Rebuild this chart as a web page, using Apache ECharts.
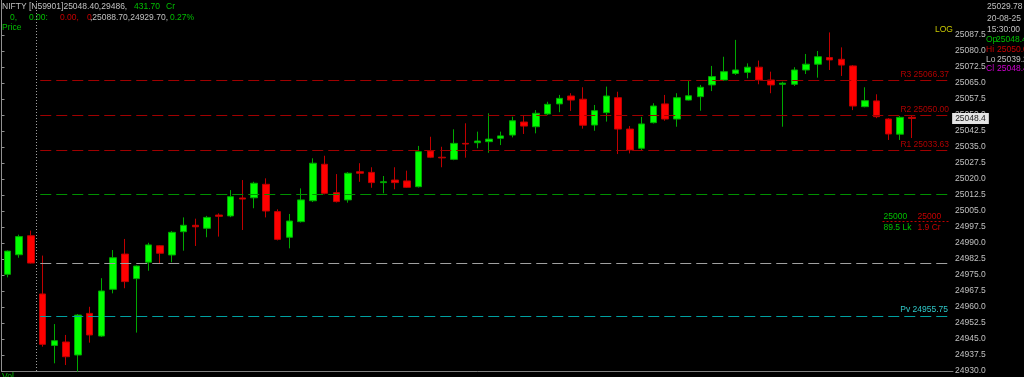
<!DOCTYPE html>
<html>
<head>
<meta charset="utf-8">
<script src="https://cdn.jsdelivr.net/npm/echarts/dist/echarts.min.js"></script>
<style>
html,body{margin:0;padding:0;background:#000;}
#chart{width:1024px;height:377px;}
</style>
</head>
<body>
<div id="chart"></div>
<script>
// ---- data ----
const categories = [
  '15:10','15:15','15:20',
  '09:15','09:20','09:25','09:30','09:35','09:40','09:45','09:50','09:55',
  '10:00','10:05','10:10','10:15','10:20','10:25','10:30','10:35','10:40','10:45','10:50','10:55',
  '11:00','11:05','11:10','11:15','11:20','11:25','11:30','11:35','11:40','11:45','11:50','11:55',
  '12:00','12:05','12:10','12:15','12:20','12:25','12:30','12:35','12:40','12:45','12:50','12:55',
  '13:00','13:05','13:10','13:15','13:20','13:25','13:30','13:35','13:40','13:45','13:50','13:55',
  '14:00','14:05','14:10','14:15','14:20','14:25','14:30','14:35','14:40','14:45','14:50','14:55',
  '15:00','15:05','15:10 ','15:15 ','15:20 ','15:25',
  '15:30','15:35','15:40'
];
const opens = [24975.3,24984.5,24993.4,24966.1,24942.0,24943.6,24937.5,24957.0,24946.4,24968.3,
  24984.8,24973.3,24981.0,24988.7,24984.4,24995.3,24998.3,24996.9,25003.1,25002.7,
  25011.1,25011.2,25017.5,25004.7,24992.7,25000.0,25009.8,25026.9,25013.6,25010.2,
  25023.4,25023.1,25018.3,25019.5,25019.1,25016.4,25033.1,25030.2,25029.2,25036.7,
  25037.0,25037.5,25039.1,25040.6,25046.7,25044.5,25050.5,25055.2,25058.9,25057.4,
  25045.3,25051.1,25058.1,25043.4,25034.4,25046.4,25055.2,25048.1,25057.0,25058.6,
  25064.1,25066.4,25069.5,25070.0,25072.4,25066.4,25064.4,25064.4,25071.1,25073.8,
  25076.9,25076.1,25073.0,25053.9,25056.6,25048.1,25041.0,25048.9];
const highs = [24986.5,24993.9,24995.8,24984.1,24952.0,24946.9,24956.7,24960.1,24973.5,24986.7,
  24991.9,24979.5,24990.1,24989.0,24995.6,25002.0,25001.4,25002.7,25003.9,25014.8,
  25019.5,25018.7,25020.3,25005.8,25003.6,25015.6,25029.7,25030.9,25022.3,25023.2,
  25027.4,25025.5,25021.4,25025.5,25023.9,25035.5,25039.8,25035.1,25043.3,25046.1,
  25042.2,25050.8,25042.2,25049.2,25049.5,25052.3,25056.2,25059.4,25060.2,25063.0,
  25054.7,25063.3,25060.9,25044.8,25049.1,25055.5,25059.4,25060.2,25065.9,25064.1,
  25073.0,25077.3,25085.2,25074.2,25075.5,25070.3,25065.6,25072.4,25078.6,25080.0,
  25088.7,25081.7,25073.4,25063.0,25059.7,25048.5,25049.5,25050.0];
const lows = [24973.9,24983.1,24980.4,24941.4,24933.6,24932.8,24929.7,24943.3,24946.0,24966.4,
  24968.8,24948.0,24977.0,24980.5,24981.0,24986.4,24988.6,24992.7,24993.0,25002.1,
  24996.1,25006.3,25002.0,24991.2,24987.5,24999.6,25009.2,25012.8,25009.0,25008.9,
  25018.7,25015.9,25013.3,25015.2,25015.8,25016.0,25029.8,25025.5,25028.8,25030.0,
  25034.4,25032.3,25035.9,25039.5,25041.1,25041.4,25050.0,25051.3,25051.9,25043.6,
  25042.6,25046.9,25031.7,25032.0,25033.6,25046.0,25047.3,25044.5,25056.8,25052.0,
  25061.2,25066.0,25068.8,25067.2,25064.4,25060.2,25044.5,25063.6,25069.2,25067.5,
  25071.1,25068.3,25052.3,25053.6,25048.5,25038.3,25038.3,25039.2];
const closes = [24986.2,24993.0,24980.6,24942.5,24944.2,24936.7,24956.2,24946.9,24967.5,24983.1,
  24971.9,24979.2,24989.1,24985.2,24995.0,24998.3,24997.6,25002.0,25002.5,25011.7,
  25010.6,25018.0,25005.0,24991.7,25000.3,25010.2,25027.4,25013.3,25009.4,25022.7,
  25022.7,25018.3,25018.7,25018.3,25016.1,25032.8,25030.2,25029.9,25036.7,25036.4,
  25037.8,25038.7,25040.2,25047.3,25044.8,25050.8,25055.0,25057.8,25057.0,25045.2,
  25052.0,25058.9,25043.4,25033.6,25045.8,25054.2,25048.1,25058.1,25059.0,25063.0,
  25068.0,25070.3,25071.1,25072.4,25066.4,25064.1,25064.9,25071.1,25073.8,25077.3,
  25075.8,25073.4,25054.2,25056.7,25049.2,25041.1,25048.9,25048.4];
const yTicks = [24930.0,24937.5,24945.0,24952.5,24960.0,24967.5,24975.0,24982.5,24990.0,24997.5,
  25005.0,25012.5,25020.0,25027.5,25035.0,25042.5,25050.0,25057.5,25065.0,25072.5,25080.0,25087.5];
const pivotLevels = { R3: 25066.37, R2: 25050.00, R1: 25033.63, Pv: 24955.75 };
const greenLevel = 25012.8;
const greyLevel = 24980.6;
const markerLevel = 25000;
const lastPrice = 25048.4;
const yMin = 24930, yMax = 25103.9;

// ---- chart ----
const FONT = 'Liberation Sans';
const FS = 8.5;
const GREY = '#c0c0c0', GREEN = '#00c000', RED = '#c80000', DRED = '#b00000';
const CLEAR = 'rgba(0,0,0,0)';
const chart = echarts.init(document.getElementById('chart'), null, {renderer: 'canvas'});
const candleData = opens.map((o, i) => [o, closes[i], lows[i], highs[i]]);
const nCat = categories.length;
const dayStart = 3;           // first candle of the session (band boundary in slot units)
const markerStart = 75;       // slot boundary where the 25000 marker starts
const lineEnd = nCat - 0.25;  // right end of level lines

function T(x, y, text, color) {
  return {
    type: 'text', x: x, y: y, silent: true,
    style: { text: text, fill: color, fontSize: FS, fontFamily: FONT, verticalAlign: 'middle', align: 'left' }
  };
}

function levelLine(value, color, label, dist) {
  return [{
    coord: [dayStart + 0.3, value],
    lineStyle: { color: color, type: [11, 5], width: 1 },
    label: label ? { show: true, position: 'insideEndTop', formatter: label.text, color: label.color,
      fontSize: FS, fontFamily: FONT, distance: dist } : { show: false }
  }, { coord: [lineEnd, value] }];
}

const option = {
  backgroundColor: '#000000',
  animation: false,
  grid: { left: 1.5, top: 0, width: 951.5, height: 371, show: false, outerBoundsMode: 'none', containLabel: false },
  xAxis: [{
    type: 'category', data: categories, boundaryGap: true,
    axisLine: { show: true, lineStyle: { color: '#808080', width: 1 } },
    axisTick: { show: false }, axisLabel: { show: false },
    splitLine: { show: false }
  }, {
    // slot-unit axis sharing the grid, used to place level lines between candle slots
    type: 'value', min: 0, max: nCat, show: false
  }],
  yAxis: [{
    type: 'value', position: 'right', min: yMin, max: yMax,
    axisLine: { show: true, lineStyle: { color: '#909090', width: 1 } },
    axisTick: { show: true, length: 3, customValues: yTicks, lineStyle: { color: '#909090' } },
    axisLabel: { show: true, customValues: yTicks, margin: 2, color: GREY, fontSize: FS, fontFamily: FONT,
      formatter: (v) => Number(v).toFixed(1) },
    splitLine: { show: false }
  }, {
    type: 'value', position: 'left', min: yMin, max: yMax,
    axisLine: { show: true, lineStyle: { color: '#909090', width: 1 } },
    axisTick: { show: false }, axisLabel: { show: false }, splitLine: { show: false }
  }],
  series: [{
    type: 'candlestick', data: candleData, barWidth: 7, clip: false,
    itemStyle: { color: '#00ff00', color0: '#ff0000', borderColor: '#00a800', borderColor0: '#c00000', borderWidth: 1 },
    markLine: {
      silent: true, symbol: 'none', animation: false,
      data: [
        [{
          coord: [77, lastPrice], lineStyle: { color: CLEAR, width: 1 },
          label: { show: true, position: 'end', distance: 5, formatter: '25048.4', color: '#202020',
            backgroundColor: '#e4e4e4', padding: [1, 3, 1, 3], fontSize: FS, fontFamily: FONT }
        }, { coord: [nCat - 1, lastPrice] }]
      ]
    }
  }, {
    type: 'line', xAxisIndex: 1, yAxisIndex: 0, data: [], clip: false, silent: true,
    markLine: {
      silent: true, symbol: 'none', animation: false,
      data: [
        [{ coord: [dayStart, yMin], lineStyle: { color: '#a0a0a0', type: [1, 2], width: 1 }, label: { show: false } },
         { coord: [dayStart, yMax] }],
        levelLine(pivotLevels.R3, '#a00000', { text: 'R3 25066.37', color: DRED }, 1),
        levelLine(pivotLevels.R2, '#a00000', { text: 'R2 25050.00', color: DRED }, 1),
        levelLine(pivotLevels.R1, '#a00000', { text: 'R1 25033.63', color: DRED }, 1),
        levelLine(pivotLevels.Pv, '#00a0a0', { text: 'Pv 24955.75', color: '#30c8c8' }, 2),
        levelLine(greenLevel, '#009000', null, 0),
        levelLine(greyLevel, '#a0a0a0', null, 0),
        [{
          coord: [markerStart, markerLevel], lineStyle: { color: '#c00000', type: [2, 2], width: 1 },
          label: { show: true, position: 'insideStartTop', distance: 1, fontSize: FS, fontFamily: FONT,
            formatter: '{g|25000}{r|25000}', rich: { g: { color: GREEN, width: 34, fontSize: FS, fontFamily: FONT }, r: { color: RED, fontSize: FS, fontFamily: FONT } } }
        }, { coord: [lineEnd, markerLevel] }],
        [{
          coord: [markerStart, markerLevel], lineStyle: { color: CLEAR, width: 1 },
          label: { show: true, position: 'insideStartBottom', distance: 1, fontSize: FS, fontFamily: FONT,
            formatter: '{g|89.5 Lk}{r|1.9 Cr}', rich: { g: { color: GREEN, width: 34, fontSize: FS, fontFamily: FONT }, r: { color: RED, fontSize: FS, fontFamily: FONT } } }
        }, { coord: [lineEnd, markerLevel] }]
      ]
    }
  }],
  graphic: [
    T(2, 7, 'NIFTY [N59901]25048.40,29486,', GREY),
    T(134, 7, '431.70', GREEN),
    T(166, 7, 'Cr', GREEN),
    T(10, 18, '0,', GREEN),
    T(29, 18, '0.00:', GREEN),
    T(60, 18, '0.00,', RED),
    T(87, 18, '0', RED),
    T(90, 18, ',25088.70,24929.70,', GREY),
    T(170, 18, '0.27%', GREEN),
    T(2, 28, 'Price', GREEN),
    T(2, 377, 'Vol', GREEN),
    T(935, 30, 'LOG', '#c8c800'),
    T(987, 7, '25029.78', GREY),
    T(987, 19, '20-08-25', GREY),
    T(987, 30, '15:30:00', GREY),
    T(986, 40, 'Op', GREEN),
    T(996, 40, '25048.40', GREEN),
    T(986, 50, 'Hi', RED),
    T(997, 50, '25050.00', RED),
    T(986, 60, 'Lo', GREY),
    T(997, 60, '25039.20', GREY),
    T(986, 69, 'Cl', '#d000d0'),
    T(997, 69, '25048.40', '#d000d0')
  ]
};
chart.setOption(option);
</script>
</body>
</html>
